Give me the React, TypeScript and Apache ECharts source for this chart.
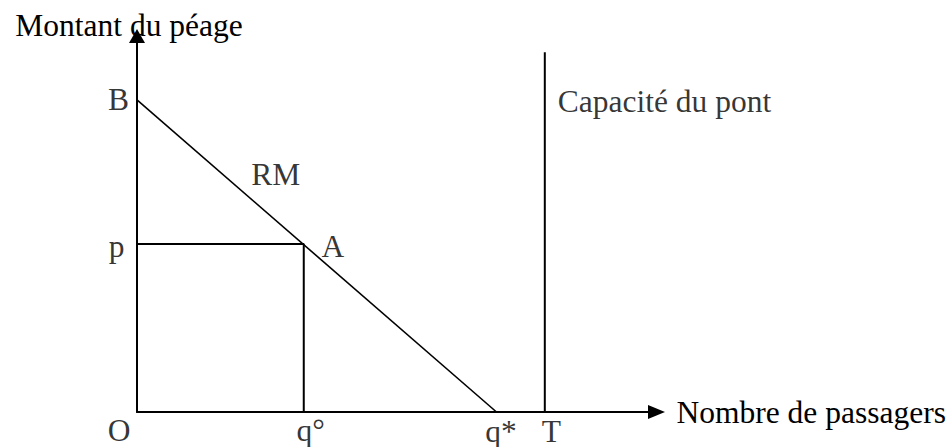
import React, { useEffect, useRef } from "react";
import * as echarts from "echarts";

// Axis extents (arbitrary units)
const xMax = 10;
const yMax = 10;

// Key values
const B = 8.3; // intercept of RM on the toll axis
const p = 4.47; // chosen toll
const qDeg = 3.21; // q°
const qStar = 6.92; // q*
const T = 7.85; // bridge capacity
const capTop = 9.57; // top of the capacity line

// Lines
const demandLine = [[0, B], [qStar, 0]];
const tollLines = [[0, p], [qDeg, p], [qDeg, 0]];
const capacityLine = [[T, 0], [T, capTop]];

// Point labels: text, anchor point, and offset of the text centre
const labelTexts = ["O", "q°", "q*", "T", "B", "p", "A", "RM", "Capacité du pont"];
const labelAnchors = [[0, 0], [qDeg, 0], [qStar, 0], [T, 0], [0, B], [0, p], [qDeg, p], [2.67, 6.32], [T, 8.25]];
const labelOffsets = [[-18, 18.5], [7, 18.5], [4.5, 19], [6.5, 19], [-18.5, -0.5], [-20.5, 2.5], [29, 2.5], [0, 0], [13, 0]];
const labelAligns = ["center", "center", "center", "center", "center", "center", "center", "center", "left"];

const xTitle = "Nombre de passagers";
const yTitle = "Montant du péage";

const FONT = "'Liberation Serif', 'Times New Roman', serif";
const FS = 31.5;

export default function App() {
  const ref = useRef<HTMLDivElement>(null);
  useEffect(() => {
    if (!ref.current) return;
    const chart = echarts.init(ref.current, undefined, { renderer: "svg" });
    const lineStyleBase = { color: "#000", width: 2 };
    chart.setOption({
      animation: false,
      backgroundColor: "#fff",
      grid: { left: 137, top: 36, right: 952 - 656.5, bottom: 447 - 412, containLabel: false },
      xAxis: {
        type: "value",
        min: 0,
        max: xMax,
        splitLine: { show: false },
        axisTick: { show: false },
        axisLabel: { show: false },
        axisLine: {
          show: true,
          onZero: false,
          symbol: ["none", "triangle"],
          symbolSize: [14, 17],
          lineStyle: { color: "#000", width: 2 },
        },
        name: xTitle,
        nameLocation: "end",
        nameGap: 20,
        nameTextStyle: {
          fontFamily: FONT,
          fontSize: FS,
          color: "#000",
          align: "left",
          verticalAlign: "middle",
          padding: [28, 0, 0, 0],
        },
      },
      yAxis: {
        type: "value",
        min: 0,
        max: yMax,
        splitLine: { show: false },
        axisTick: { show: false },
        axisLabel: { show: false },
        axisLine: {
          show: true,
          onZero: false,
          symbol: ["none", "triangle"],
          symbolSize: [16, 14],
          lineStyle: { color: "#000", width: 2 },
        },
        name: yTitle,
        nameLocation: "end",
        nameGap: -5,
        nameTextStyle: {
          fontFamily: FONT,
          fontSize: FS,
          color: "#000",
          align: "center",
          padding: [0, 16, 0, 0],
        },
      },
      series: [
        {
          type: "line",
          data: demandLine,
          symbol: "none",
          lineStyle: { ...lineStyleBase, width: 1.6 },
          silent: true,
        },
        {
          type: "line",
          data: tollLines,
          symbol: "none",
          lineStyle: lineStyleBase,
          silent: true,
        },
        {
          type: "line",
          data: capacityLine,
          symbol: "none",
          lineStyle: lineStyleBase,
          silent: true,
        },
        {
          type: "scatter",
          symbolSize: 0,
          silent: true,
          data: labelTexts.map((t, i) => ({
            value: labelAnchors[i],
            name: t,
            label: {
              show: true,
              position: labelAligns[i] === "left" ? "right" : "inside",
              distance: 0,
              offset: labelOffsets[i],
              formatter: t,
              fontFamily: FONT,
              fontSize: FS,
              color: "#000",
              align: labelAligns[i],
              verticalAlign: "middle",
            },
          })),
        },
      ],
    });
    return () => chart.dispose();
  }, []);
  return (
    <div
      ref={ref}
      style={{ position: "fixed", left: 0, top: 0, width: 952, height: 447, background: "#fff" }}
    />
  );
}
